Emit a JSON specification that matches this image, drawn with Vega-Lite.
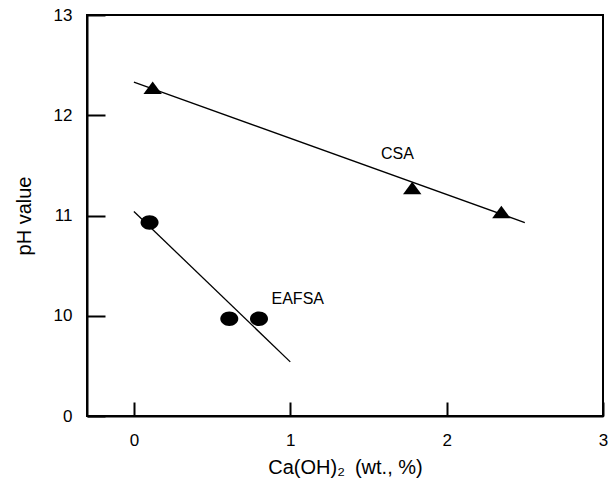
{
  "$schema": "https://vega.github.io/schema/vega-lite/v6.json",
  "width": 516,
  "height": 401,
  "autosize": {"type": "none"},
  "padding": {"left": 87, "top": 15, "right": 13, "bottom": 63},
  "background": "white",
  "config": {
    "font": "Liberation Sans",
    "view": {"stroke": "black", "strokeWidth": 2},
    "axis": {
      "grid": false,
      "domainColor": "black",
      "domainWidth": 2,
      "tickColor": "black",
      "tickWidth": 2,
      "labelColor": "black",
      "labelFont": "Liberation Sans",
      "labelFontSize": 17,
      "labelFlush": false,
      "labelOverlap": false,
      "labelBound": false,
      "titleColor": "black",
      "titleFont": "Liberation Sans",
      "titleFontSize": 20,
      "titleFontWeight": "normal"
    }
  },
  "datasets": {
    "points": [
      {"series": "CSA", "ca": 0.12, "ph": 12.27},
      {"series": "CSA", "ca": 1.78, "ph": 11.27},
      {"series": "CSA", "ca": 2.35, "ph": 11.03},
      {"series": "EAFSA", "ca": 0.10, "ph": 10.93},
      {"series": "EAFSA", "ca": 0.61, "ph": 9.97},
      {"series": "EAFSA", "ca": 0.80, "ph": 9.97}
    ],
    "fits": [
      {"series": "CSA", "ca": 0.0, "ph": 12.33},
      {"series": "CSA", "ca": 2.5, "ph": 10.93},
      {"series": "EAFSA", "ca": 0.0, "ph": 11.04},
      {"series": "EAFSA", "ca": 1.0, "ph": 9.54}
    ],
    "labels": [
      {"text": "CSA", "ca": 1.58, "ph": 11.61},
      {"text": "EAFSA", "ca": 0.88, "ph": 10.17}
    ]
  },
  "encoding": {
    "x": {
      "field": "ca",
      "type": "quantitative",
      "scale": {"domain": [-0.3, 3], "nice": false, "zero": false},
      "axis": {
        "title": "Ca(OH)₂\u2002(wt., %)",
        "values": [0, 0.5, 1, 1.5, 2, 2.5, 3],
        "format": "d",
        "labelExpr": "datum.value % 1 === 0 ? datum.label : ''",
        "tickSize": {"condition": {"test": "datum.value % 1 !== 0", "value": -7}, "value": -14},
        "labelPadding": 30,
        "titlePadding": 9
      }
    },
    "y": {
      "field": "ph",
      "type": "quantitative",
      "scale": {"domain": [9, 13], "nice": false, "zero": false},
      "axis": {
        "title": "pH value",
        "values": [9, 9.5, 10, 10.5, 11, 11.5, 12, 12.5, 13],
        "format": "d",
        "labelExpr": "datum.value % 1 !== 0 ? '' : (datum.value === 9 ? '0' : datum.label)",
        "tickSize": {"condition": {"test": "datum.value % 1 !== 0", "value": -10}, "value": -18},
        "labelPadding": 33,
        "titlePadding": 19
      }
    }
  },
  "layer": [
    {
      "data": {"name": "fits"},
      "mark": {"type": "line", "color": "black", "strokeWidth": 1.3},
      "encoding": {"detail": {"field": "series"}}
    },
    {
      "data": {"name": "points"},
      "transform": [{"filter": "datum.series === 'CSA'"}],
      "mark": {"type": "point", "shape": "M-1,0.62L1,0.62L0,-0.72Z", "filled": true, "color": "black", "size": 340, "opacity": 1, "strokeWidth": 0}
    },
    {
      "data": {"name": "points"},
      "transform": [{"filter": "datum.series === 'EAFSA'"}],
      "mark": {"type": "point", "shape": "M-1,0A1,0.8 0 1,0 1,0A1,0.8 0 1,0 -1,0Z", "filled": true, "color": "black", "size": 324, "opacity": 1, "strokeWidth": 0}
    },
    {
      "data": {"name": "labels"},
      "mark": {"type": "text", "align": "left", "baseline": "middle", "fontSize": 16, "color": "black", "font": "Liberation Sans"},
      "encoding": {"text": {"field": "text"}}
    }
  ]
}
